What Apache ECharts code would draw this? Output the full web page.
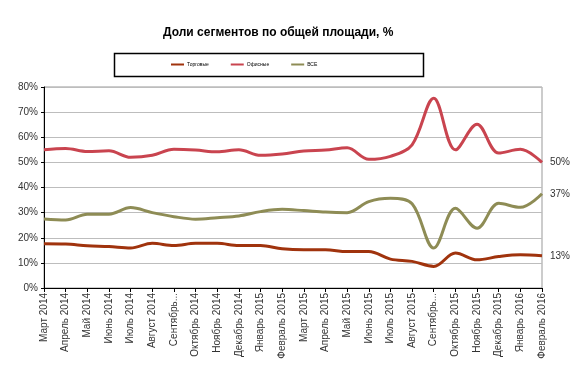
<!DOCTYPE html>
<html><head><meta charset="utf-8">
<script src="https://cdn.jsdelivr.net/npm/echarts@6/dist/echarts.min.js"></script>
<style>html,body{margin:0;padding:0;background:#fff}#c{width:588px;height:379px}</style>
</head><body><div id="c"></div>
<script>
var categories = ["Март 2014","Апрель 2014","Май 2014","Июнь 2014","Июль 2014","Август 2014","Сентябрь...","Октябрь 2014","Ноябрь 2014","Декабрь 2014","Январь 2015","Февраль 2015","Март 2015","Апрель 2015","Май 2015","Июнь 2015","Июль 2015","Август 2015","Сентябрь...","Октябрь 2015","Ноябрь 2015","Декабрь 2015","Январь 2016","Февраль 2016"];
var seriesNames = ["Торговые","Офисные","ВСЕ"];
var trade = [17.6,17.5,16.8,16.5,15.9,17.8,16.9,17.8,17.8,16.9,16.9,15.6,15.2,15.2,14.5,14.5,11.5,10.6,8.6,13.9,11.2,12.5,13.2,12.8];
var office = [55,55.5,54.3,54.6,52,52.8,55.2,54.9,54.2,55,52.8,53.3,54.5,54.9,55.8,51.2,52.4,57,75.5,55,65.2,53.7,55.2,50];
var all = [27.5,27.1,29.4,29.4,32,30,28.4,27.4,28,28.7,30.4,31.3,30.8,30.2,30,34.4,35.7,33.5,15.9,31.7,23.8,33.7,32.1,37.5];
var endLabels = ["13%","50%","37%"];
var yTicks = [0,10,20,30,40,50,60,70,80];

var colors = ["#a0330d","#c9444f","#8e8c55"];
var chart = echarts.init(document.getElementById('c'), null, {renderer:'canvas'});
function mk(i, data){
  return {
    name: seriesNames[i], type:'line', data:data, smooth:0.35, symbol:'none',
    lineStyle:{width:3,color:colors[i]}, itemStyle:{color:colors[i]},
    endLabel:{show:true, formatter:endLabels[i], distance:8, color:'#333', fontSize:10, fontFamily:'Liberation Sans, Arial'}
  };
}
chart.setOption({
  animation:false,
  title:{text:"Доли сегментов по общей площади, %", left:163, top:27, padding:0,
    textStyle:{fontSize:12, fontWeight:'bold', color:'#000', fontFamily:'Liberation Sans, Arial'}},
  graphic:[{type:'rect', shape:{x:114.5,y:53.5,width:309,height:23}, style:{fill:'#fff', stroke:'#000', lineWidth:1.5}, z:-1}],
  legend:{left:171, top:62, padding:0, itemGap:22, itemWidth:13, itemHeight:2, icon:'rect',
    data:seriesNames,
    textStyle:{fontSize:5, color:'#000', width:52, padding:[0,0,0,-2], fontFamily:'Liberation Sans, Arial'}},
  grid:{left:44, right:46, top:87, bottom:91, show:true, borderColor:'#999', borderWidth:1},
  xAxis:{type:'category', data:categories, boundaryGap:false,
    axisLine:{lineStyle:{color:'#000', width:1}},
    axisTick:{show:true, interval:0, length:4, lineStyle:{color:'#000'}},
    axisLabel:{interval:0, rotate:90, fontSize:10, color:'#333', margin:5, fontFamily:'Liberation Sans, Arial'},
    splitLine:{show:false}},
  yAxis:{type:'value', min:yTicks[0], max:yTicks[yTicks.length-1], interval:10,
    axisLine:{show:true, lineStyle:{color:'#000', width:1}},
    axisTick:{show:true, length:3, lineStyle:{color:'#000'}},
    axisLabel:{formatter:'{value}%', fontSize:10, color:'#333', margin:6, fontFamily:'Liberation Sans, Arial'},
    splitLine:{lineStyle:{color:'#bdbdbd', width:1}}},
  series:[mk(0,trade), mk(1,office), mk(2,all)]
});
</script></body></html>
